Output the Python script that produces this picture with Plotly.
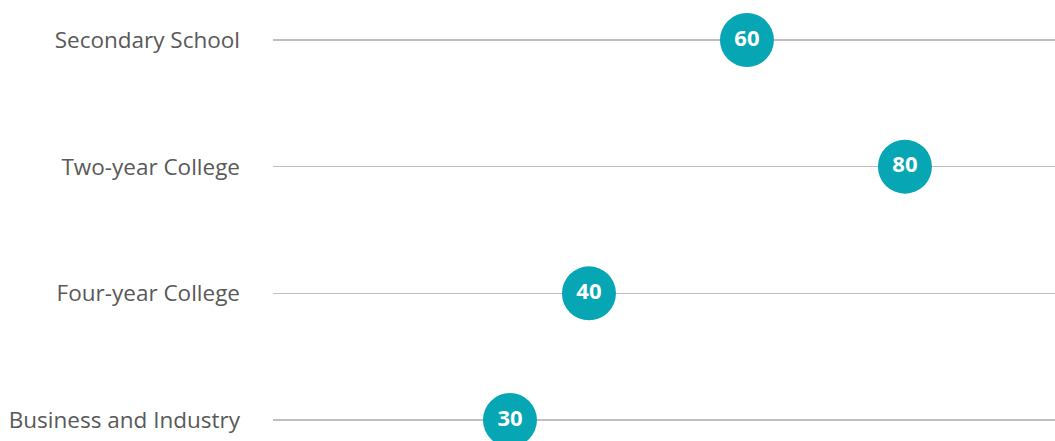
import plotly.graph_objects as go

categories = ["Secondary School", "Two-year College", "Four-year College", "Business and Industry"]
values = [60, 80, 40, 30]

ypos = list(range(len(categories)))

fig = go.Figure()
fig.add_trace(go.Scatter(
    x=values, y=ypos,
    mode="markers+text",
    marker=dict(size=54, color="#06A6B4", line=dict(width=0)),
    text=[str(v) for v in values],
    textposition="middle center",
    textfont=dict(family="Open Sans", size=22, color="white", weight="bold"),
    hoverinfo="skip",
    showlegend=False,
))

fig.update_layout(
    width=1055, height=441,
    margin=dict(l=273, r=0, t=0, b=0),
    plot_bgcolor="white", paper_bgcolor="white",
    xaxis=dict(range=[0, 99], showgrid=False, zeroline=False, showticklabels=False, showline=False),
    yaxis=dict(
        range=[3 + 21/126.67, -40/126.67],
        tickvals=ypos, ticktext=categories,
        showgrid=True, gridcolor="#BFBFBF", gridwidth=1.5,
        zeroline=False, showline=False, ticks="",
        ticklabelstandoff=32,
        tickfont=dict(family="Open Sans", size=22.5, color="#595959"),
    ),
)

fig.write_html(
    "out.html",
    config={"displayModeBar": False, "staticPlot": True},
    post_script="document.body.style.margin='0';document.body.style.overflow='hidden';",
)
